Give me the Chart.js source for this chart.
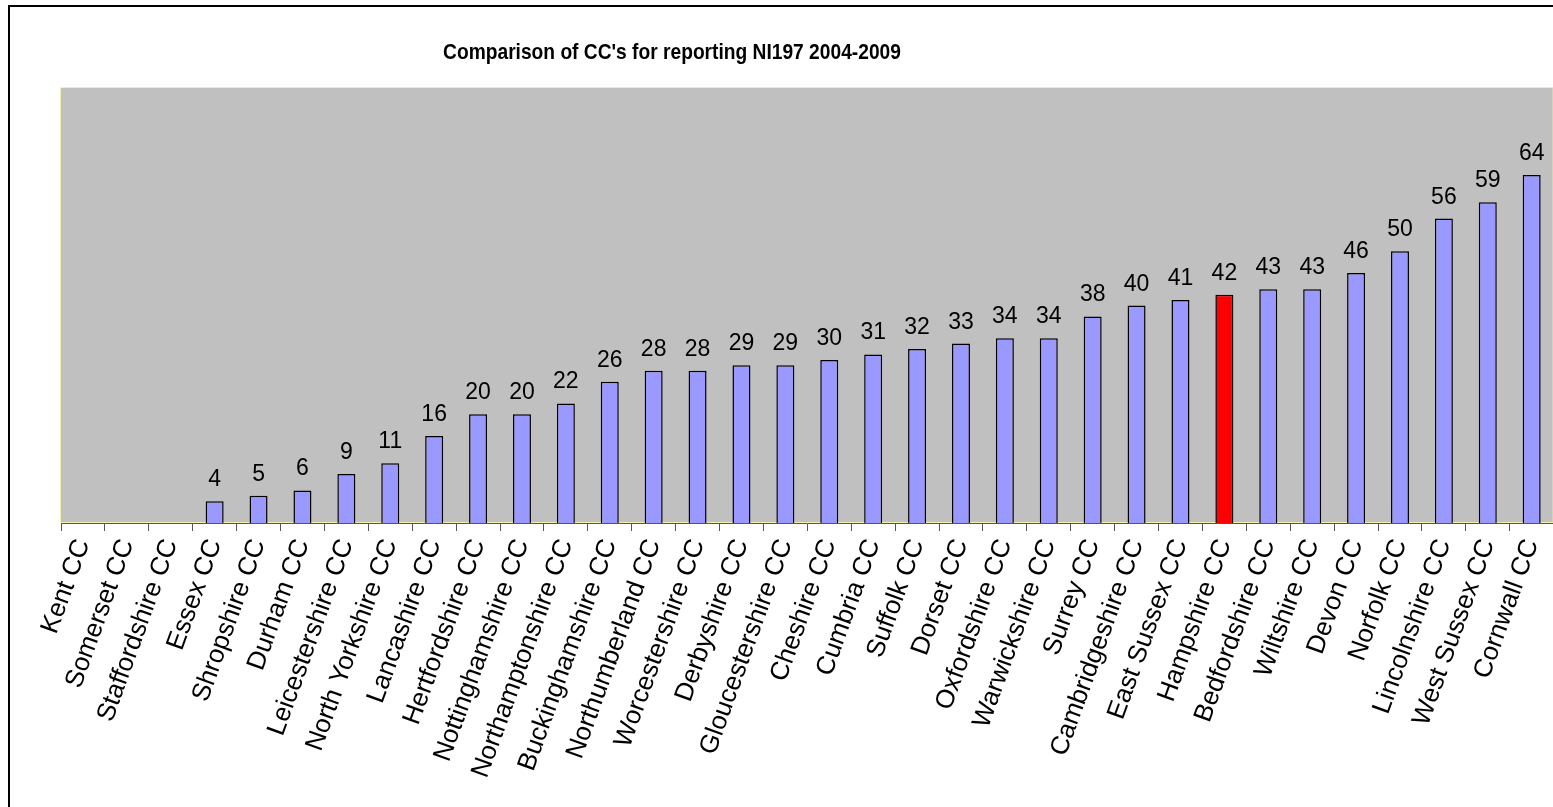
<!DOCTYPE html>
<html>
<head>
<meta charset="utf-8">
<style>
  html, body { margin: 0; padding: 0; background: #fff; overflow: hidden; }
  #wrap { width: 1565px; height: 807px; position: relative; }
</style>
<script src="https://cdn.jsdelivr.net/npm/chart.js@4/dist/chart.umd.min.js"></script>
</head>
<body>
<div id="wrap"><canvas id="cc"></canvas></div>
<script>
  "use strict";

  const councils = [
    "Kent CC", "Somerset CC", "Staffordshire CC", "Essex CC", "Shropshire CC",
    "Durham CC", "Leicestershire CC", "North Yorkshire CC", "Lancashire CC",
    "Hertfordshire CC", "Nottinghamshire CC", "Northamptonshire CC",
    "Buckinghamshire CC", "Northumberland CC", "Worcestershire CC",
    "Derbyshire CC", "Gloucestershire CC", "Cheshire CC", "Cumbria CC",
    "Suffolk CC", "Dorset CC", "Oxfordshire CC", "Warwickshire CC", "Surrey CC",
    "Cambridgeshire CC", "East Sussex CC", "Hampshire CC", "Bedfordshire CC",
    "Wiltshire CC", "Devon CC", "Norfolk CC", "Lincolnshire CC",
    "West Sussex CC", "Cornwall CC"
  ];

  const scores = [
    0, 0, 0, 4, 5, 6, 9, 11, 16, 20, 20, 22, 26, 28, 28, 29, 29, 30, 31, 32,
    33, 34, 34, 38, 40, 41, 42, 43, 43, 46, 50, 56, 59, 64
  ];

  const highlighted = "Hampshire CC";
  const titleText = "Comparison of CC's for reporting NI197 2004-2009";
  const font = "'Liberation Sans', Arial, sans-serif";

  // grey plot area, frame and title
  const backdrop = {
    id: "backdrop",
    beforeDraw(chart) {
      const { ctx, chartArea: a } = chart;
      ctx.save();
      ctx.fillStyle = "#c0c0c0";
      ctx.fillRect(a.left, a.top, a.right - a.left, a.bottom - a.top);
      ctx.strokeStyle = "#f4f0b0";
      ctx.lineWidth = 1;
      ctx.strokeRect(a.left - 0.5, a.top - 0.5, a.right - a.left, a.bottom - a.top);

      ctx.strokeStyle = "#000";
      ctx.lineWidth = 2;
      ctx.beginPath();
      ctx.moveTo(9, 810);
      ctx.lineTo(9, 6);
      ctx.lineTo(1570, 6);
      ctx.stroke();

      ctx.fillStyle = "#000";
      ctx.font = "bold 19px " + font;
      ctx.textAlign = "center";
      ctx.textBaseline = "alphabetic";
      ctx.translate(672, 59);
      ctx.scale(1.01, 1.12);
      ctx.fillText(titleText, 0, 0);
      ctx.restore();
    }
  };

  const valueLabels = {
    id: "valueLabels",
    afterDatasetsDraw(chart) {
      const { ctx } = chart;
      const meta = chart.getDatasetMeta(0);
      ctx.save();
      ctx.fillStyle = "#000";
      ctx.font = "23px " + font;
      ctx.textAlign = "center";
      ctx.textBaseline = "alphabetic";
      meta.data.forEach((bar, i) => {
        if (!scores[i]) return;
        ctx.fillText(scores[i], bar.x, bar.y - 15);
      });
      ctx.restore();
    }
  };

  new Chart(document.getElementById("cc"), {
    type: "bar",
    data: {
      labels: councils,
      datasets: [{
        data: scores,
        backgroundColor: councils.map((c) => c === highlighted ? "#ff0000" : "#9999ff"),
        borderColor: "#000",
        borderWidth: 1.5,
        categoryPercentage: 1,
        barPercentage: 0.41
      }]
    },
    options: {
      responsive: true,
      maintainAspectRatio: false,
      animation: false,
      layout: {
        padding: { left: 61, top: 88, right: 0, bottom: 0 }
      },
      plugins: {
        legend: { display: false },
        tooltip: { enabled: false }
      },
      scales: {
        x: {
          offset: true,
          afterFit(scale) { scale.height = 284; },
          border: { display: true, color: "#555", width: 1 },
          grid: {
            offset: true,
            drawOnChartArea: false,
            drawTicks: true,
            tickLength: 8,
            color: "#555"
          },
          ticks: {
            autoSkip: false,
            minRotation: 70,
            maxRotation: 70,
            padding: 4,
            color: "#000",
            font: { family: font, size: 26 }
          }
        },
        y: {
          display: false,
          min: 0,
          max: 80
        }
      }
    },
    plugins: [backdrop, valueLabels]
  });
</script>
</body>
</html>
